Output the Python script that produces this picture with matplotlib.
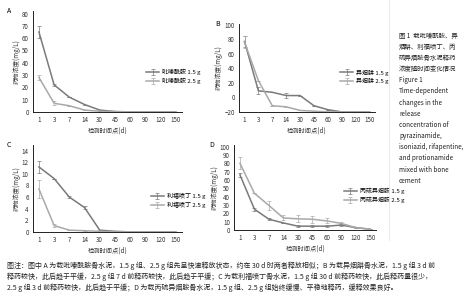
import matplotlib
matplotlib.use('Agg')
import matplotlib.pyplot as plt

plt.rcParams['font.family'] = ['Noto Sans CJK SC', 'DejaVu Sans']

# --- Data ---
days = ['1', '3', '7', '14', '30', '45', '60', '90', '120', '150']

a_15 = [65, 22, 12, 6, 1.5, 0.3, 0, 0, 0, 0]
a_15_err = [5, 1, 0, 0, 0, 0, 0, 0, 0, 0]
a_25 = [28, 7, 5, 1.5, 0.5, 0.2, 0, 0, 0, 0]
a_25_err = [2, 1.5, 0, 0, 0, 0, 0, 0, 0, 0]

b_15 = [77, 9, 7, 2.5, 2.5, -11.5, -17, -20, -20, -20]
b_15_err = [8, 5, 0, 4, 0, 0, 0, 0, 0, 0]
b_25 = [76, 23, -11.5, -13, -18, -19, -20, -20, -20, -20]
b_25_err = [8, 0, 0, 0, 0, 0, 0, 0, 0, 0]

c_15 = [11.2, 9.2, 6, 4.2, 0.3, 0.1, 0, 0, 0, 0]
c_15_err = [1, 0, 0.2, 0.3, 0, 0, 0, 0, 0, 0]
c_25 = [7.4, 1.1, 0.3, 0.2, 0.1, 0, 0, 0, 0, 0]
c_25_err = [1.6, 0.3, 0, 0, 0, 0, 0, 0, 0, 0]

d_15 = [66, 25, 13, 8.6, 4.7, 4.7, 4.7, 6, 3, 1]
d_15_err = [2, 2, 1, 0, 1, 1, 1, 1, 0, 0]
d_25 = [80, 44, 29.5, 14.5, 13.5, 13, 11, 8, 3, 1]
d_25_err = [7, 0, 5, 3, 4, 4, 3, 2, 0, 0]

panels = [
    # letter, drug, s15, e15, s25, e25, ylim, yticks
    ('A', '吡嗪酰胺', a_15, a_15_err, a_25, a_25_err, (0, 82), range(0, 81, 10)),
    ('B', '异烟肼', b_15, b_15_err, b_25, b_25_err, (-20, 101), range(-20, 101, 20)),
    ('C', '利福喷丁', c_15, c_15_err, c_25, c_25_err, (0, 15), range(0, 15, 2)),
    ('D', '丙硫异烟胺', d_15, d_15_err, d_25, d_25_err, (0, 102), range(0, 101, 10)),
]

# axes rects in figure fraction [left, bottom, width, height]
rects = [
    [0.069, 0.627, 0.313, 0.336],
    [0.502, 0.627, 0.286, 0.293],
    [0.069, 0.227, 0.313, 0.290],
    [0.492, 0.233, 0.298, 0.284],
]
legend_pos = [(0.74, 0.35), (0.72, 0.40), (0.77, 0.36), (0.75, 0.41)]

DARK = '#7a7a7a'
LIGHT = '#a9a9a9'

fig = plt.figure(figsize=(4.76, 3.0), dpi=100)
x = list(range(len(days)))

for (letter, drug, s15, e15, s25, e25, ylim, yticks), rect, lp in zip(panels, rects, legend_pos):
    ax = fig.add_axes(rect)
    ax.errorbar(x, s15, yerr=e15, color=DARK, lw=1.1, capsize=1.2,
                elinewidth=0.5, capthick=0.5, label=f'{drug} 1.5 g')
    ax.errorbar(x, s25, yerr=e25, color=LIGHT, lw=1.1, capsize=1.2,
                elinewidth=0.5, capthick=0.5, label=f'{drug} 2.5 g')
    ax.set_xlim(-0.4, 9.4)
    ax.set_ylim(*ylim)
    ax.set_yticks(list(yticks))
    ax.set_xticks(x)
    ax.set_xticklabels(days)
    ax.tick_params(length=0, labelsize=4.5, pad=3, colors='#333333')
    for sp in ['top', 'right']:
        ax.spines[sp].set_visible(False)
    for sp in ['left', 'bottom']:
        ax.spines[sp].set_linewidth(0.7)
        ax.spines[sp].set_color('#222222')
    ax.set_ylabel('药物浓度(mg/L)', fontsize=4.5, labelpad=1, color='#333333')
    ax.set_xlabel('检测时间点(d)', fontsize=4.5, labelpad=2, color='#333333')
    ax.text(-0.16, 1.0, letter, transform=ax.transAxes, fontsize=5, ha='center', va='center')
    ax.legend(loc='center left', bbox_to_anchor=lp, frameon=False, fontsize=4.3,
              handlelength=2.2, handletextpad=0.5, labelspacing=0.4, borderpad=0)

# faint separator before caption
fig.add_artist(plt.Line2D([0.817, 0.817], [0.2, 1.0], color='#e6e6e6', lw=0.6))

caption = ('图 1  载吡嗪酰胺、异\n烟肼、利福喷丁、丙\n硫异烟胺骨水泥释药\n浓度随时间变化情况\n'
           'Figure 1\nTime-dependent\nchanges in the\nrelease\nconcentration of\n'
           'pyrazinamide,\nisoniazid, rifapentine,\nand protionamide\nmixed with bone\ncement')
fig.text(0.838, 0.895, caption, fontsize=4.6, va='top', ha='left', linespacing=1.53, color='#222222')

note = ('图注：图中 A 为载吡嗪酰胺骨水泥，1.5 g 组、2.5 g 组先呈快速释放状态，约在 30 d 时两者释放相似；B 为载异烟肼骨水泥，1.5 g 组 3 d 前\n'
        '释药较快，此后趋于平缓，2.5 g 组 7 d 前释药较快，此后趋于平缓；C 为载利福喷丁骨水泥，1.5 g 组 30 d 前释药较快，此后释药量很少，\n'
        '2.5 g 组 3 d 前释药较快，此后趋于平缓；D 为载丙硫异烟胺骨水泥，1.5 g 组、2.5 g 组始终缓慢、平稳地释药，缓释效果良好。')
fig.text(0.015, 0.077, note, fontsize=5.0, va='center', ha='left', linespacing=1.35, color='#222222')

fig.savefig('out.png', dpi=100)
